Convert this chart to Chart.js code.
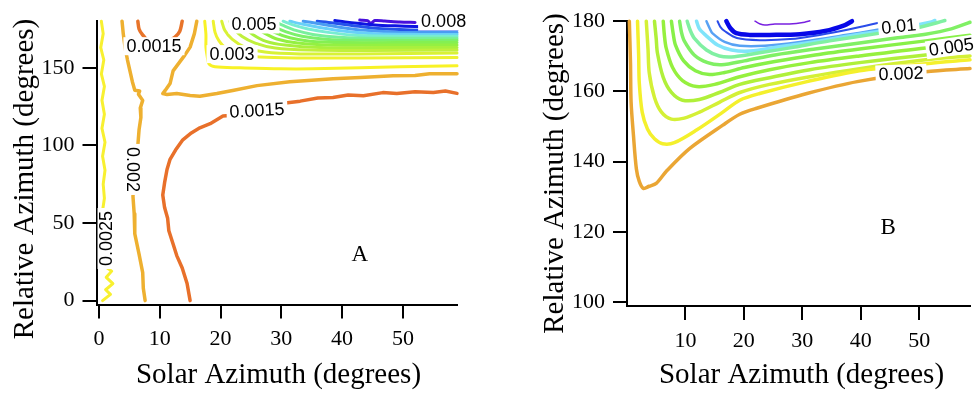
<!DOCTYPE html>
<html>
<head>
  <meta charset="utf-8">
  <title>Contours A and B</title>
  <script src="https://cdn.jsdelivr.net/npm/chart.js@4"></script>
  <style>
    body { margin: 0; background: #fff; }
    #wrap { position: relative; width: 977px; height: 394px; }
    canvas { position: absolute; top: 0; }
    #chartA { left: 0; }
    #chartB { left: 490px; }
  </style>
</head>
<body>
  <div id="wrap">
    <canvas id="chartA" width="490" height="394"></canvas>
    <canvas id="chartB" width="487" height="394"></canvas>
  </div>

  <script>
    // ---- ticks ----
    const xTicksA = [0, 10, 20, 30, 40, 50];
    const yTicksA = [0, 50, 100, 150];
    const xTicksB = [10, 20, 30, 40, 50];
    const yTicksB = [100, 120, 140, 160, 180];

    // ---- panel A contours: [solar azimuth, relative azimuth] ----
    const aLeft0025 = [[0.4,180],[0.7,172],[0.3,163],[0.8,155],[0.4,146],[0.9,138],[0.5,129],[0.9,120],[0.5,111],[1.0,102],[0.6,93],[1.0,84],[0.7,75],[0.9,66],[0.6,58],[0.9,48],[0.8,38],[1.1,28],[1.0,22],[2.1,19],[1.2,15],[2.3,11],[1.1,7],[1.9,4],[0.6,0]];
    const aLeft002 = [[3.8,180],[4.0,172],[4.3,163],[4.7,155],[5.1,148],[5.5,141],[5.9,135.5],[6.7,135],[6.5,133],[7.2,129],[6.8,124],[6.9,118],[6.6,110],[6.4,100],[6.0,88],[5.7,76],[5.6,67],[5.8,56],[5.9,43],[6.6,30],[7.2,18],[7.3,8],[7.6,0]];
    const aTop0015 = [[6.4,180],[6.6,175],[7.1,171.7],[8.4,166],[9.7,165],[10.9,166],[12.5,169.7],[13.3,173.5],[13.7,180]];
    const aMid002 = [[16.1,180],[15.7,172],[15.0,163.3],[14.1,158],[13.3,153.8],[12.2,148],[11.7,139.8],[10.9,135.4],[10.5,133.4],[11.2,132.8],[12.8,133.4],[15.0,132.1],[16.6,131.6],[19.4,133.4],[22.0,135.4],[26.0,138.5],[31.4,141],[35,142],[38.5,143],[43,143.8],[48.4,144.9],[52,145],[54.4,146.2],[58.9,146.2]];
    const aLow0015 = [[15.0,0],[14.5,11],[13.7,21],[12.8,29],[12.2,36.5],[11.5,45],[11.3,53],[10.8,60],[10.5,68],[10.8,76],[11.2,84.5],[11.7,91],[12.6,97],[13.8,103.6],[15.2,108],[16.6,111.3],[18.3,114],[20.4,118.9],[22.5,119.5],[24.5,122],[27.6,124.5],[30,127],[33.1,128.5],[36,130.5],[38.5,130.8],[41,132.5],[43.5,132],[46.7,134],[49,133.5],[52,134.5],[55,134],[57,135],[58.9,133.5]];
    const aUpper = [
      [[17.4,180],[17.6,171.5],[17.6,163.3],[17.8,157.6],[18.1,152.5],[19.1,150.6],[23.2,150],[29.8,149.3],[35.2,149.3],[42.9,150],[49.5,150.6],[58.9,151.3]],
      [[18.8,180],[19.1,172.8],[19.7,167.7],[20.9,162.6],[23.2,158.8],[26.5,156.9],[33.1,156.3],[42.9,156.3],[58.9,156.6]],
      [[20.2,180],[20.7,174.1],[21.9,168.4],[24.0,163.3],[27.3,160.1],[33.1,158.9],[42.9,158.9],[58.9,159.5]],
      [[21.5,180],[22.2,175.3],[23.5,170.3],[25.7,165.9],[29.0,162.7],[34.7,161.4],[44.6,161.1],[58.9,161.4]],
      [[23.2,180],[24.0,175.9],[25.3,171.5],[27.5,167.0],[30.6,164.6],[36.3,163.0],[46.2,163.0],[58.9,163.0]],
      [[24.8,180],[25.8,176.0],[27.3,172.2],[29.4,168.4],[32.7,165.9],[38.0,164.6],[47.9,164.6],[58.9,164.6]],
      [[26.2,180],[27.3,176.6],[28.9,172.8],[31.4,169.3],[34.7,167.1],[40.5,166.2],[49.5,166.2],[58.9,166.2]],
      [[27.5,180],[28.8,176.6],[30.8,173.1],[33.4,170.3],[37.2,168.4],[42.9,167.7],[58.9,167.7]],
      [[28.8,180],[30.3,177.3],[32.4,174.1],[35.2,171.5],[39.6,169.7],[46.2,169.0],[58.9,169.0]],
      [[30.3,180],[31.9,177.6],[34.4,175.0],[37.7,172.8],[42.1,170.9],[49.5,170.3],[58.9,170.3]],
      [[31.4,180],[33.4,178.2],[36.3,176.0],[40.5,173.5],[45.4,171.9],[52.8,171.5],[58.9,171.5]],
      [[33.6,180],[36.0,178.5],[39.3,176.3],[43.8,174.1],[49.5,172.8],[58.9,172.8]],
      [[35.9,180],[38.5,178.9],[41.6,177.3],[45.4,175.4],[51.2,174.4],[58.9,174.1]],
      [[38.8,180.4],[40.5,179.5],[42.9,178.5],[45.4,177.6],[48.7,177.0],[52.0,176.6],[58.9,175.7]],
      [[42.9,180.7],[44.2,180.4],[44.7,178.5],[45.4,180.4],[47.0,180.1],[49.5,179.5],[52.0,179.2]]
    ];

    // ---- panel B contours ----
    const bOrange = [[0.4,180],[0.6,168],[0.7,157],[1.1,147.6],[1.6,138],[2.1,134.4],[2.8,132.4],[3.8,133],[5.0,133.8],[6.7,137.2],[10.7,143.7],[16.4,150.4],[19.3,153.5],[22.2,155.2],[30.8,159.4],[39.4,162.8],[51.1,165.6],[58.7,166.5]];
    const bYellow = [[1.8,180],[2.0,170],[2.1,162.5],[2.6,154.1],[3.5,149.3],[4.7,146.5],[6.1,145.1],[8.1,145.4],[11.9,149],[16.4,154.1],[19.3,157.5],[22.7,159.4],[30.8,162.8],[39.8,165.9],[51.1,167.9],[58.7,169]];
    const bYellowGreen = [[3.3,180],[3.6,172],[3.8,165.4],[4.7,158.3],[5.9,154.1],[7.6,152.1],[9.8,152.4],[12.4,154.1],[15.8,156.9],[19.3,159.7],[24.4,162],[31.3,164.2],[39.8,166.5],[51.1,169],[58.7,170.1]];
    const bGreen1 = [[4.7,180],[5.0,175],[5.2,171],[6.2,164],[7.6,159.7],[9.5,157.5],[12.4,157.7],[15.8,159.7],[19.3,162],[24.4,163.9],[31.3,166.2],[39.8,168.2],[51.1,170.4],[58.7,171.5]];
    const bGreen2 = [[6.2,180],[6.4,176],[6.7,172.4],[7.8,166.8],[9.5,163.1],[11.9,161.4],[15,162],[19.3,164.2],[24.4,166.2],[31.3,168.2],[39.8,170.1],[51.1,172.4],[58.7,173.5]];
    const bGreen3 = [[7.6,180],[7.9,176.5],[8.3,173.2],[9.7,168.7],[11.7,165.9],[14.1,164.8],[16.7,165.4],[20.1,166.8],[25.3,168.5],[32.2,170.4],[39.8,172.1],[51.1,174.4],[58.7,176]];
    const bGreen4 = [[9.0,180],[9.3,177],[9.8,174.4],[11.5,170.4],[13.8,168.2],[16.2,167.6],[20.1,168.7],[25.3,170.4],[32.2,172.1],[39.8,173.8],[46,175.2],[51.1,176.3],[55.5,177.8],[58.7,179.7]];
    const bMint = [[10.3,180],[10.8,177.5],[11.5,175.2],[13.6,171.8],[15.8,170.1],[18.4,169.9],[22.7,171],[27.9,172.4],[34.7,174.4],[43.3,176.6],[50.1,178.3],[54.4,180.2]];
    const bCyan = [[11.9,180],[12.4,177.8],[13.4,176.1],[15.5,173.2],[17.9,171.8],[21,171.5],[26.1,172.7],[33,174.4],[39.8,176.3],[46.7,178],[51.9,179.7],[52.7,180.2]];
    const bLightBlue = [[13.6,180],[14.2,177.8],[14.6,176.6],[16.7,174.1],[19.3,173],[23.6,173],[29.6,174.1],[36.4,175.8],[43.3,177.7],[49.3,180.2]];
    const bBlue = [[15.5,180],[16.0,178.3],[16.7,177.2],[18.8,175.2],[22.7,174.6],[27.9,174.9],[33,176.1],[38.1,177.7],[42.7,179.4],[44.1,180.2]];
    const bDeepBlue = [[17,180],[17.7,178],[18.7,176.6],[21,176.1],[24.4,176.1],[29.6,176.3],[33.9,177.2],[37.3,178.9],[38.5,180]];
    const bPurple = [[21.9,180],[22.8,179.2],[23.6,178.9],[25.3,179.2],[27.8,179.2],[30.4,179.7],[31.3,180.1]];

    // contour labels (text, solar az, relative az, angle)
    const aLabels = [
      ["0.0025", 1.25, 40, -90], ["0.002", 5.6, 84.5, 90], ["0.0015", 9.05, 163.9, 0],
      ["0.003", 21.9, 158.8, 0], ["0.005", 25.5, 177.9, 0], ["0.008", 56.7, 179.8, 0],
      ["0.0015", 26, 122.6, -3]
    ];
    const bLabels = [["0.01", 46.5, 178.6, -6], ["0.005", 55.5, 172.7, -8], ["0.002", 46.9, 165.1, -2]];

    const upperColors = ["#f8f226", "#eef230", "#d8f236", "#c0f03c", "#a8f03e", "#94f042", "#84f052",
      "#7cf06c", "#78f09c", "#78ecd2", "#68d0f8", "#4a9cf2", "#2452ea", "#0e14e2", "#4810dc"];

    function line(points, color, width, tension) {
      return {
        data: points.map(p => ({ x: p[0], y: p[1] })),
        showLine: true, borderColor: color, borderWidth: width,
        pointRadius: 0, tension: tension, clip: 8,
        borderCapStyle: "round", borderJoinStyle: "round"
      };
    }

    const textPlugin = {
      id: "texts",
      afterDatasetsDraw(chart, args, o) {
        const ctx = chart.ctx, xs = chart.scales.x, ys = chart.scales.y;
        ctx.save();
        ctx.font = '18px "Liberation Sans"';
        ctx.textAlign = "center";
        ctx.textBaseline = "middle";
        o.labels.forEach(l => {
          ctx.save();
          ctx.translate(xs.getPixelForValue(l[1]), ys.getPixelForValue(l[2]));
          ctx.rotate(l[3] * Math.PI / 180);
          const w = ctx.measureText(l[0]).width;
          ctx.fillStyle = "#fff";
          ctx.fillRect(-w / 2 - 3, -9, w + 6, 18);
          ctx.fillStyle = "#000";
          ctx.fillText(l[0], 0, 1);
          ctx.restore();
        });
        ctx.fillStyle = "#000";
        ctx.font = '23px "Liberation Serif"';
        ctx.fillText(o.letter[0], xs.getPixelForValue(o.letter[1]), ys.getPixelForValue(o.letter[2]));
        ctx.font = '29px "Liberation Serif"';
        ctx.textBaseline = "alphabetic";
        ctx.fillText("Solar Azimuth (degrees)", o.xTitle[0], o.xTitle[1]);
        ctx.translate(o.yTitle[0], o.yTitle[1]);
        ctx.rotate(-Math.PI / 2);
        ctx.fillText("Relative Azimuth (degrees)", 0, 0);
        ctx.restore();
      }
    };

    function axis(min, max, ticks, fit) {
      return {
        type: "linear", min: min, max: max,
        afterBuildTicks: s => { s.ticks = ticks.map(v => ({ value: v })); },
        afterFit: fit,
        border: { display: true, color: "#000", width: 2 },
        grid: { drawOnChartArea: false, drawTicks: true, tickLength: 14, tickWidth: 2, tickColor: "#000", color: "#000", lineWidth: 2 },
        ticks: { color: "#000", font: { family: "Liberation Serif", size: 22 }, padding: 8, maxRotation: 0, autoSkip: false }
      };
    }

    function makeChart(id, datasets, o) {
      return new Chart(document.getElementById(id), {
        type: "scatter",
        data: { datasets: datasets },
        options: {
          responsive: false, animation: false, devicePixelRatio: 1,
          layout: { padding: o.padding },
          plugins: { legend: { display: false }, tooltip: { enabled: false }, texts: o.texts },
          scales: {
            x: axis(o.x[0], o.x[1], o.xTicks, s => { s.height = o.xHeight; }),
            y: axis(o.y[0], o.y[1], o.yTicks, s => { s.width = o.yWidth; })
          }
        },
        plugins: [textPlugin]
      });
    }

    const dsA = [
      line(aLeft0025, "#f8f030", 3, 0),
      line(aLeft002, "#eeb030", 3.5, 0),
      line(aTop0015, "#e8742a", 3.5, 0.3),
      line(aMid002, "#eeb030", 3.5, 0),
      line(aLow0015, "#e8702a", 3.5, 0)
    ].concat(aUpper.map((pts, i) => line(pts, upperColors[i], 3, 0.3)));

    const dsB = [
      line(bOrange, "#eaa634", 3.5, 0.3),
      line(bYellow, "#f4f02c", 3.5, 0.3),
      line(bYellowGreen, "#d4f036", 3.5, 0.3),
      line(bGreen1, "#b0f03a", 3.5, 0.3),
      line(bGreen2, "#96f03e", 3.5, 0.3),
      line(bGreen3, "#88f048", 3.5, 0.3),
      line(bGreen4, "#80f064", 3.5, 0.3),
      line(bMint, "#80f0a2", 3.5, 0.3),
      line(bCyan, "#80e4fa", 3.5, 0.3),
      line(bLightBlue, "#58a2f4", 2.5, 0.3),
      line(bBlue, "#2a4cea", 2, 0.3),
      line(bDeepBlue, "#0808e8", 4.5, 0.3),
      line(bPurple, "#7820e0", 1.5, 0.3)
    ];

    makeChart("chartA", dsA, {
      padding: { top: 16.7, right: 33, bottom: 0, left: 0 },
      x: [-0.4, 58.9], y: [-2.5, 180], xTicks: xTicksA, yTicks: yTicksA,
      xHeight: 89.5, yWidth: 96.5,
      texts: { labels: aLabels, letter: ["A", 42.9, 29.2], xTitle: [278.5, 383], yTitle: [33, 179] }
    });

    makeChart("chartB", dsB, {
      padding: { top: 18, right: 7, bottom: 0, left: 0 },
      x: [0, 58.7], y: [98.9, 180], xTicks: xTicksB, yTicks: yTicksB,
      xHeight: 88, yWidth: 137,
      texts: { labels: bLabels, letter: ["B", 44.7, 121], xTitle: [311.5, 383], yTitle: [73, 173.5] }
    });
  </script>
</body>
</html>
